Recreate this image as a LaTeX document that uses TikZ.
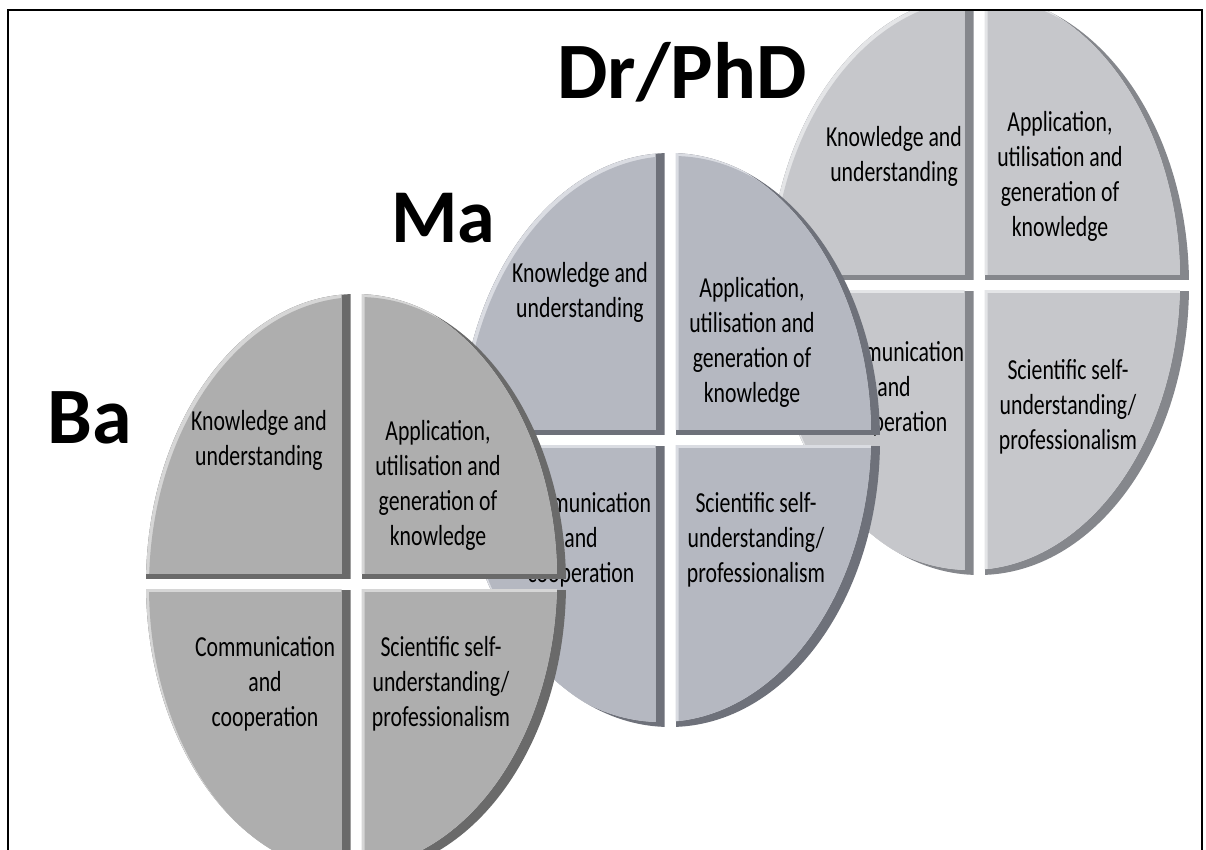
\documentclass[tikz,border=0pt]{standalone}
\usepackage{fontspec}
\setmainfont{Carlito}
% one quadrant: ellipse centre (#1,#2), radii #3,#4, box (#5,#6)-(#7,#8)
\newcommand\quadr[8]{%
\begin{scope}
 \clip (#5,#6) rectangle (#7,#8);
 \clip (#1,#2) ellipse [x radius=#3pt, y radius=#4pt];
 \fill[qdark] (#5,#6) rectangle (#7,#8);
 \begin{scope}[shift={(-9,-5)}]
   \clip (#5,#6) rectangle (#7,#8);
   \fill[qlight] (#1,#2) ellipse [x radius=#3pt, y radius=#4pt];
 \end{scope}
 \begin{scope}[shift={(-9,-5)}]
   \clip (#5,#6) rectangle (#7,#8);
   \clip (#1,#2) ellipse [x radius=#3pt, y radius=#4pt];
   \begin{scope}[shift={(12,8)}]
     \clip (#5,#6) rectangle (#7,#8);
     \fill[qbase] (#1,#2) ellipse [x radius=#3pt, y radius=#4pt];
   \end{scope}
 \end{scope}
\end{scope}}
\newcommand\disc[4]{%
 \quadr{#1}{#2}{#3}{#4}{{#1-#3-30}}{{#2-#4-30}}{{#1-5.5}}{{#2-5.5}}%
 \quadr{#1}{#2}{#3}{#4}{{#1+5.5}}{{#2-#4-30}}{{#1+#3+30}}{{#2-5.5}}%
 \quadr{#1}{#2}{#3}{#4}{{#1-#3-30}}{{#2+5.5}}{{#1-5.5}}{{#2+#4+30}}%
 \quadr{#1}{#2}{#3}{#4}{{#1+5.5}}{{#2+5.5}}{{#1+#3+30}}{{#2+#4+30}}}
\begin{document}
\begin{tikzpicture}[x=1pt,y=-1pt,
  qtext/.style={font=\fontsize{29}{35}\selectfont, align=center, xscale=0.75, transform shape, inner sep=0pt},
  lab/.style={font=\fontsize{80}{84}\selectfont\bfseries, inner sep=0pt, anchor=base},
  frame/.style={line width=2.5pt, black}]
\useasboundingbox (0,0) rectangle (1206,850);
\fill[white] (0,0) rectangle (1206,850);
% ---------- Dr/PhD (back) ----------
\definecolor{qbase}{HTML}{C6C7CB}
\definecolor{qlight}{HTML}{E4E5E7}
\definecolor{qdark}{HTML}{85878C}
\begin{scope}
\clip (0,11) rectangle (1206,850);
\disc{979}{285}{210}{290}
\end{scope}
\node[qtext] (drk) at (894,156) {Knowledge and\\understanding};
\node[qtext] (dra) at (1060,176) {Application,\\utilisation and\\generation of\\knowledge};
\node[qtext] (drc) at (894,389) {Communication\\and\\cooperation};
\node[qtext] (drs) at (1068,407) {Scientific self-\\understanding/\\professionalism};
% ---------- Ma (middle) ----------
\definecolor{qbase}{HTML}{B5B8C1}
\definecolor{qlight}{HTML}{DADCE2}
\definecolor{qdark}{HTML}{6E717A}
\disc{670}{440}{210}{287}
\node[qtext] (mak) at (580,292) {Knowledge and\\understanding};
\node[qtext] (maa) at (752,342) {Application,\\utilisation and\\generation of\\knowledge};
\node[qtext] (mac) at (581,540) {Communication\\and\\cooperation};
\node[qtext] (mas) at (756,540) {Scientific self-\\understanding/\\professionalism};
% ---------- Ba (front) ----------
\definecolor{qbase}{HTML}{AEAEAE}
\definecolor{qlight}{HTML}{D6D6D6}
\definecolor{qdark}{HTML}{6A6A6A}
\disc{356}{584}{210}{290}
\node[qtext] (bak) at (259,440) {Knowledge and\\understanding};
\node[qtext] (baa) at (438,485) {Application,\\utilisation and\\generation of\\knowledge};
\node[qtext] (bac) at (265,684) {Communication\\and\\cooperation};
\node[qtext] (bas) at (441,684) {Scientific self-\\understanding/\\professionalism};
% ---------- level labels ----------
\node[lab] (lba) at (90,443) {Ba};
\node[lab, font=\fontsize{76}{80}\selectfont\bfseries] (lma) at (443,243) {Ma};
\node[lab] (ldr) at (682,99) {Dr/PhD};
% ---------- frame ----------
\coordinate (f1) at (8,850);
\coordinate (f2) at (8,10);
\coordinate (f3) at (1202,10);
\coordinate (f4) at (1202,850);
\draw[frame] (f1) -- (f2) -- (f3) -- (f4);
\end{tikzpicture}
\end{document}
